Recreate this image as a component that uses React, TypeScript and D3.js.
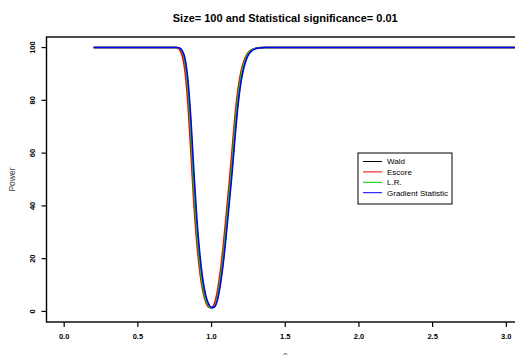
import React from "react";
import * as d3 from "d3";

const title = "Size= 100 and Statistical significance= 0.01";
const thetaGrid = [0.2, 0.7, 0.76, 0.78, 0.8, 0.82, 0.84, 0.86, 0.88, 0.9, 0.92, 0.94, 0.96, 0.98, 1.0, 1.02, 1.04, 1.06, 1.08, 1.1, 1.12, 1.14, 1.16, 1.18, 1.2, 1.22, 1.24, 1.26, 1.28, 1.32, 1.36, 1.5, 3.2];
const waldPower = [100, 100, 100, 99.8, 98.6, 95.0, 85.5, 69.5, 49.0, 32.5, 19.5, 10.5, 5.0, 2.2, 1.3, 1.9, 5.0, 11.5, 20.0, 31.0, 43.0, 55.0, 68.5, 80.0, 88.5, 93.5, 96.8, 98.3, 99.2, 99.9, 100, 100, 100];
const escorePower = [100, 100, 100, 99.35, 97.1, 90.8, 78.0, 59.6, 40.4, 25.8, 15.0, 7.8, 3.6, 1.7, 1.5, 3.2, 8.0, 15.7, 25.5, 37.2, 49.2, 61.9, 74.9, 84.6, 91.1, 95.0, 97.5, 98.8, 99.4, 99.9, 100, 100, 100];
const lrPower = [100, 100, 100, 99.8, 98.5, 94.5, 84.0, 67.0, 46.0, 30.0, 18.0, 9.5, 4.5, 2.0, 1.2, 2.0, 5.5, 12.5, 21.5, 33.0, 45.0, 57.0, 71.0, 82.0, 89.5, 94.0, 97.0, 98.5, 99.3, 99.9, 100, 100, 100];
const gradientPower = [100, 100, 100, 99.9, 98.95, 95.9, 87.7, 73.0, 53.4, 35.6, 22.2, 12.5, 6.3, 2.9, 1.5, 1.7, 4.3, 10.1, 18.3, 29.0, 40.8, 52.8, 66.1, 78.2, 86.9, 92.4, 96.0, 98.0, 99.0, 99.8, 100, 100, 100];
const seriesNames = ["Wald", "Escore", "L.R.", "Gradient Statistic"];
const seriesColors = ["#000000", "#ff0000", "#00c800", "#0000ff"];
const xTicks = [0, 0.5, 1, 1.5, 2, 2.5, 3];
const yTicks = [0, 20, 40, 60, 80, 100];

const W = 515;
const H = 355;
const left = 46.5, right = 524, top = 37, bottom = 322;

export default function App() {
  const x = d3.scaleLinear().domain([-0.12, 3.12]).range([left, right]);
  const y = d3.scaleLinear().domain([-4, 104]).range([bottom, top]);
  const series = [waldPower, escorePower, lrPower, gradientPower];
  const line = d3
    .line<[number, number]>()
    .x((d) => x(d[0]))
    .y((d) => y(d[1]))
    .curve(d3.curveMonotoneX);
  const font = "Liberation Sans, Arial, Helvetica, sans-serif";
  const legendX = 358, legendY = 153, legendW = 94, legendH = 51;
  return (
    <svg
      width={W}
      height={H}
      style={{ position: "fixed", top: 0, left: 0, background: "#fff" }}
      fontFamily={font}
    >
      <rect x={0} y={0} width={W} height={H} fill="#fff" />
      <defs>
        <clipPath id="plotclip">
          <rect x={left} y={top} width={right - left} height={bottom - top} />
        </clipPath>
      </defs>
      <text x={x(1.5)} y={21.5} textAnchor="middle" fontSize={11} fontWeight="bold">
        {title}
      </text>
      <g clipPath="url(#plotclip)">
        {series.map((vals, i) => (
          <path
            key={i}
            d={line(thetaGrid.map((t, j) => [t, vals[j]] as [number, number])) || ""}
            fill="none"
            stroke={seriesColors[i]}
            strokeWidth={1.5}
          />
        ))}
      </g>
      <rect x={left} y={top} width={right - left} height={bottom - top} fill="none" stroke="#000" strokeWidth={1.4} />
      {xTicks.map((t) => (
        <g key={t}>
          <line x1={x(t)} x2={x(t)} y1={bottom} y2={bottom + 5} stroke="#000" strokeWidth={1.2} />
          <text x={x(t)} y={339} textAnchor="middle" fontSize={7.5} fontWeight="bold">
            {t.toFixed(1)}
          </text>
        </g>
      ))}
      {yTicks.map((t) => (
        <g key={t}>
          <line x1={left - 5} x2={left} y1={y(t)} y2={y(t)} stroke="#000" strokeWidth={1.2} />
          <text
            transform={`translate(34.5, ${y(t)}) rotate(-90)`}
            textAnchor="middle"
            fontSize={7.5}
            fontWeight="bold"
          >
            {t}
          </text>
        </g>
      ))}
      <text transform={`translate(15, ${(top + bottom) / 2}) rotate(-90)`} textAnchor="middle" fontSize={8.5} fill="#444">
        Power
      </text>
      <text x={x(1.5)} y={358} textAnchor="middle" fontSize={8} fill="#444">
        θ
      </text>
      <rect x={legendX} y={legendY} width={legendW} height={legendH} fill="#fff" stroke="#000" strokeWidth={1} />
      {seriesNames.map((name, i) => {
        const ly = legendY + 8.5 + i * 10.4;
        return (
          <g key={name}>
            <line x1={legendX + 5} x2={legendX + 24} y1={ly} y2={ly} stroke={seriesColors[i]} strokeWidth={1} />
            <text x={legendX + 29} y={ly + 2.8} fontSize={8}>
              {name}
            </text>
          </g>
        );
      })}
    </svg>
  );
}
